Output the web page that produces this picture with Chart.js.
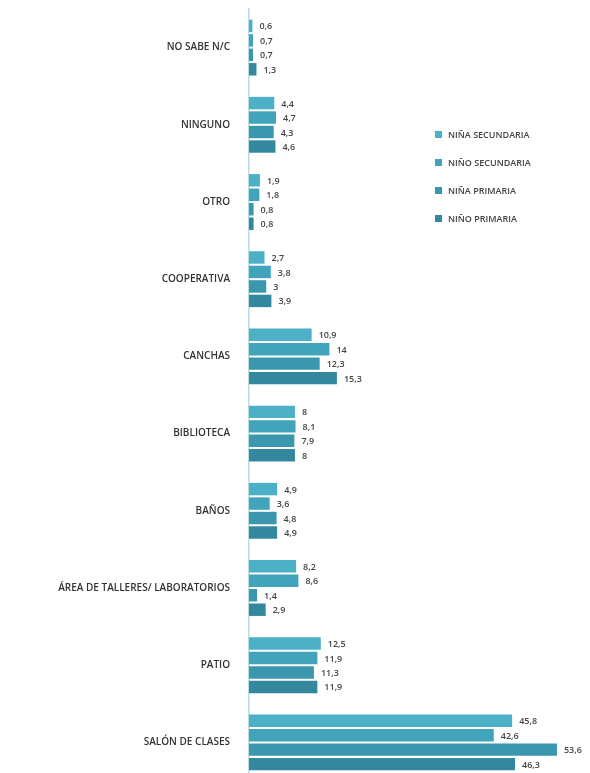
<!DOCTYPE html>
<html>
<head>
<meta charset="utf-8">
<script src="https://cdn.jsdelivr.net/npm/chart.js@4"></script>
<style>
  body { margin: 0; background: #fff; overflow: hidden; }
  #wrap { width: 590px; height: 806px; margin-top: -8px; position: relative; }
</style>
</head>
<body>
<div id="wrap"><canvas id="chart"></canvas></div>
<script>
// --- data ---
const categories = ['NO SABE N/C', 'NINGUNO', 'OTRO', 'COOPERATIVA', 'CANCHAS', 'BIBLIOTECA', 'BAÑOS',
  'ÁREA DE TALLERES/ LABORATORIOS', 'PATIO', 'SALÓN DE CLASES'];
const seriesNames = ['NIÑA SECUNDARIA', 'NIÑO SECUNDARIA', 'NIÑA PRIMARIA', 'NIÑO PRIMARIA'];
const ninaSecundaria = [0.6, 4.4, 1.9, 2.7, 10.9, 8, 4.9, 8.2, 12.5, 45.8];
const ninoSecundaria = [0.7, 4.7, 1.8, 3.8, 14, 8.1, 3.6, 8.6, 11.9, 42.6];
const ninaPrimaria = [0.7, 4.3, 0.8, 3, 12.3, 7.9, 4.8, 1.4, 11.3, 53.6];
const ninoPrimaria = [1.3, 4.6, 0.8, 3.9, 15.3, 8, 4.9, 2.9, 11.9, 46.3];

const colors = ['#4cb0c6', '#42a4bb', '#3b97ad', '#34889e'];
const font = '"Open Sans", sans-serif';

// etiquetas de valor al final de cada barra
const valueLabels = {
  id: 'valueLabels',
  afterDatasetsDraw(chart) {
    const ctx = chart.ctx;
    ctx.save();
    ctx.font = '600 9px ' + font;
    ctx.fillStyle = '#444';
    ctx.textBaseline = 'middle';
    chart.data.datasets.forEach((ds, i) => {
      chart.getDatasetMeta(i).data.forEach((bar, j) => {
        const txt = String(ds.data[j]).replace('.', ',');
        ctx.fillText(txt, bar.x + 7, bar.y + 1);
      });
    });
    ctx.restore();
  }
};

// leyenda a la derecha (el lienzo sube 8px)
const sideLegend = {
  id: 'sideLegend',
  afterDraw(chart) {
    const ctx = chart.ctx;
    ctx.save();
    ctx.font = '600 9px ' + font;
    ctx.textBaseline = 'middle';
    chart.data.datasets.forEach((ds, i) => {
      const y = 142 + i * 28;
      ctx.fillStyle = ds.backgroundColor;
      ctx.fillRect(435, y - 3, 7, 7);
      ctx.fillStyle = '#444';
      ctx.fillText(ds.label, 448, y + 1);
    });
    ctx.restore();
  }
};

const seriesValues = [ninaSecundaria, ninoSecundaria, ninaPrimaria, ninoPrimaria];

new Chart(document.getElementById('chart'), {
  type: 'bar',
  data: {
    labels: categories,
    datasets: seriesNames.map((name, i) => ({
      label: name,
      data: seriesValues[i],
      backgroundColor: colors[i],
      categoryPercentage: 0.75,
      barPercentage: 0.86
    }))
  },
  options: {
    indexAxis: 'y',
    responsive: true,
    maintainAspectRatio: false,
    animation: false,
    layout: { padding: { top: 0, right: 25, bottom: 0, left: 0 } },
    plugins: {
      legend: { display: false },
      tooltip: { enabled: false }
    },
    scales: {
      x: { display: false, min: 0, max: 55 },
      y: {
        afterFit(scale) { scale.width = 249; },
        grid: { display: false },
        border: { color: '#b9dde2', width: 1.5 },
        ticks: {
          color: '#333',
          padding: 11,
          font: { family: font, size: 10, weight: '600' }
        }
      }
    }
  },
  plugins: [valueLabels, sideLegend]
});
</script>
</body>
</html>
